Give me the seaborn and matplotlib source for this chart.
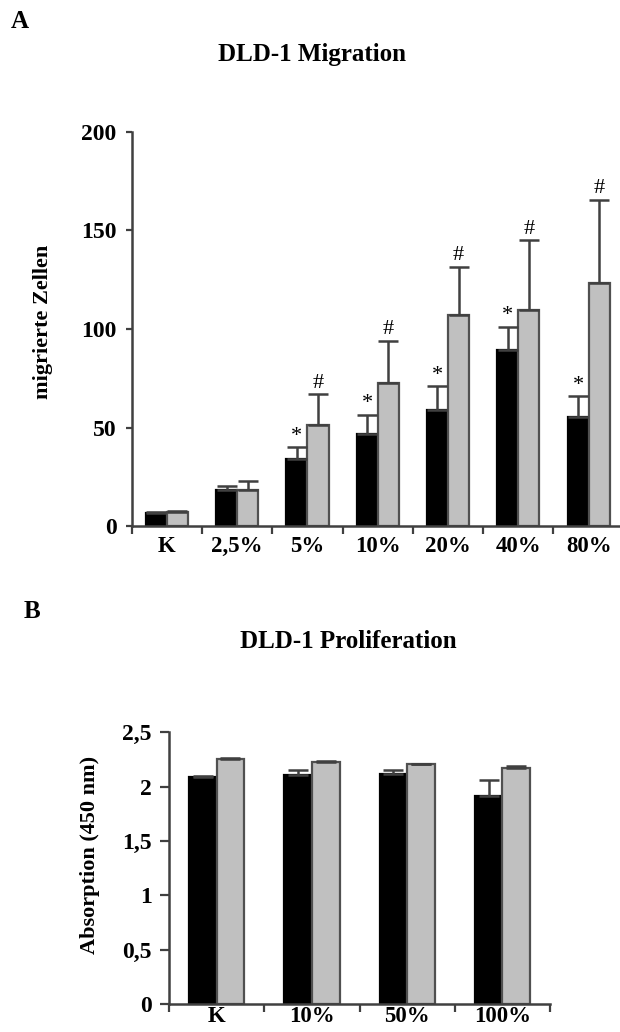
import numpy as np
import pandas as pd
import matplotlib
matplotlib.use("Agg")
import matplotlib.pyplot as plt
import seaborn as sns
from matplotlib.ticker import FixedLocator

# ---------------- data ----------------
mig_categories = ["K", "2,5%", "5%", "10%", "20%", "40%", "80%"]
mig_black = [6.6, 18.6, 34.1, 46.7, 59.1, 89.3, 55.2]
mig_black_err = [0.5, 2.0, 5.9, 9.8, 11.8, 11.8, 10.8]
mig_gray = [7.1, 18.6, 51.5, 72.6, 107.0, 109.7, 123.5]
mig_gray_err = [0.8, 4.2, 15.5, 21.4, 24.5, 35.3, 41.9]
mig_black_marks = ["", "", "*", "*", "*", "*", "*"]
mig_gray_marks = ["", "", "#", "#", "#", "#", "#"]
mig_yticks = [0, 50, 100, 150, 200]
mig_yticklabels = ["0", "50", "100", "150", "200"]

prol_categories = ["K", "10%", "50%", "100%"]
prol_black = [2.088, 2.103, 2.118, 1.917]
prol_black_err = [0.009, 0.046, 0.031, 0.140]
prol_gray = [2.253, 2.225, 2.207, 2.176]
prol_gray_err = [0.012, 0.012, 0.0, 0.013]
prol_yticks = [0, 0.5, 1, 1.5, 2, 2.5]
prol_yticklabels = ["0", "0,5", "1", "1,5", "2", "2,5"]

# ---------------- style ----------------
sns.set_theme(style="white")
plt.rcParams["font.family"] = ["Liberation Serif", "DejaVu Serif"]
plt.rcParams["font.weight"] = "bold"
for k in ["text.color", "axes.labelcolor", "xtick.color", "ytick.color"]:
    plt.rcParams[k] = "black"

AXC = "#404040"
FS = 16.5

fig = plt.figure(figsize=(6.2, 10.32), dpi=100)
ax1 = fig.add_axes([0.2124, 0.4899, 0.7876, 0.3826])
ax2 = fig.add_axes([0.2726, 0.0271, 0.6145, 0.2633])


def draw(ax, cats, black, berr, gray, gerr, width, ylim, yticks, yticklabels,
         ylabel, ytick_len, ytick_pad, xspan, xpad, bmarks=None, gmarks=None):
    df = pd.DataFrame({
        "cat": cats + cats,
        "val": black + gray,
        "grp": ["a"] * len(cats) + ["b"] * len(cats),
    })
    sns.barplot(data=df, x="cat", y="val", hue="grp", order=cats,
                hue_order=["a", "b"], palette=["#000000", "#c0c0c0"],
                width=width, errorbar=None, saturation=1, legend=False,
                linewidth=1.6, ax=ax)
    edgecols = ["#000000", "#505050"]
    errs = [berr, gerr]
    marks = [bmarks, gmarks]
    for ci, cont in enumerate(ax.containers[:2]):
        xs, ys = [], []
        for bar in cont:
            bar.set_edgecolor(edgecols[ci])
            xs.append(bar.get_x() + bar.get_width() / 2)
            ys.append(bar.get_height())
        e = np.array(errs[ci])
        ax.errorbar(xs, ys, yerr=[np.zeros_like(e), e], fmt="none",
                    ecolor=AXC, elinewidth=1.8, capsize=7, capthick=1.8,
                    zorder=1)
        if marks[ci] is not None:
            for x, y, ee, m in zip(xs, ys, e, marks[ci]):
                if m:
                    ax.annotate(m, (x, y + ee), xytext=(0, 1),
                                textcoords="offset points", ha="center",
                                va="bottom", fontsize=16, fontweight="normal",
                                color="black")
    n = len(cats)
    ax.set_xlim(-0.5, -0.5 + xspan)
    ax.set_ylim(*ylim)
    ax.set_yticks(yticks)
    ax.set_yticklabels(yticklabels)
    ax.set_xticks(range(n))
    ax.set_xticklabels(cats)
    ax.xaxis.set_minor_locator(FixedLocator(np.arange(-0.5, n + 0.5, 1.0)))
    ax.tick_params(axis="x", which="major", length=0, pad=xpad, labelsize=FS,
                   colors="black")
    ax.tick_params(axis="x", which="minor", length=6, width=1.6,
                   direction="out", color=AXC, bottom=True)
    ax.tick_params(axis="y", which="major", length=ytick_len, width=1.6,
                   direction="out", color=AXC, pad=ytick_pad, labelsize=17,
                   left=True, labelcolor="black")
    for lab in ax.get_xticklabels() + ax.get_yticklabels():
        lab.set_fontweight("bold")
    ax.set_xlabel("")
    ax.set_ylabel(ylabel, fontsize=16, fontweight="bold", color="black")
    sns.despine(ax=ax)
    for s in ["left", "bottom"]:
        ax.spines[s].set_color(AXC)
        ax.spines[s].set_linewidth(1.8)


draw(ax1, mig_categories, mig_black, mig_black_err, mig_gray, mig_gray_err,
     0.6, (0, 200), mig_yticks, mig_yticklabels, "migrierte Zellen", 4.5, 6.5,
     6.946, 7, mig_black_marks, mig_gray_marks)
ax1.yaxis.set_label_coords(-0.161, 0.518)

draw(ax2, prol_categories, prol_black, prol_black_err, prol_gray,
     prol_gray_err, 0.58, (0, 2.5), prol_yticks, prol_yticklabels,
     "Absorption (450 nm)", 6.5, 6, 4, 1.5)
ax2.yaxis.set_label_coords(-0.181, 0.548)

fig.text(20 / 620, 1 - 22 / 1032, "A", ha="center", va="center",
         fontsize=18, fontweight="bold")
fig.text(312 / 620, 1 - 55 / 1032, "DLD-1 Migration", ha="center",
         va="center", fontsize=18, fontweight="bold")
fig.text(32 / 620, 1 - 612 / 1032, "B", ha="center", va="center",
         fontsize=18, fontweight="bold")
fig.text(348 / 620, 1 - 641 / 1032, "DLD-1 Proliferation", ha="center",
         va="center", fontsize=18, fontweight="bold")

fig.savefig("out.png", dpi=100, facecolor="white")
